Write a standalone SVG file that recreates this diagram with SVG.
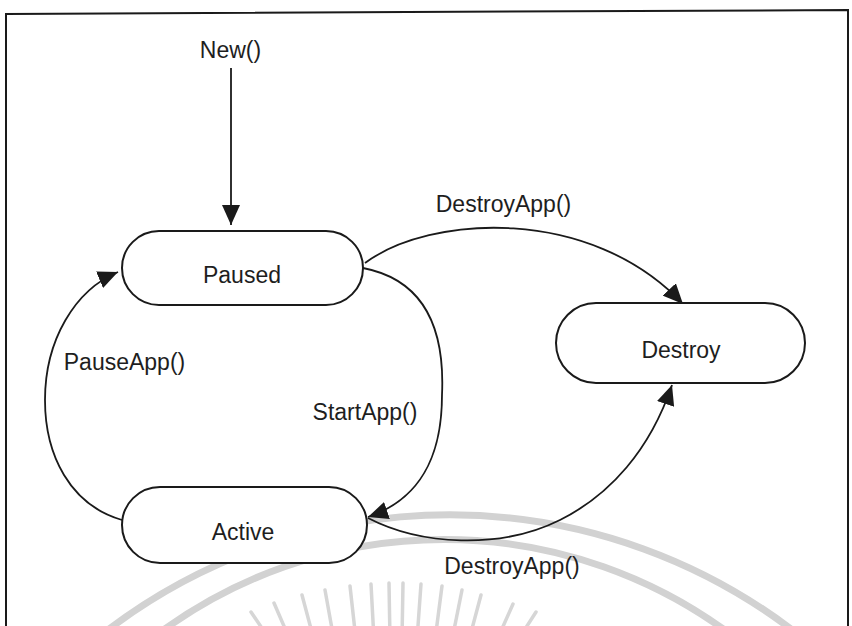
<svg xmlns="http://www.w3.org/2000/svg" width="852" height="626" viewBox="0 0 852 626">
  <style>
    .node { fill: #ffffff; stroke: #1a1a1a; stroke-width: 2; }
    .edge { fill: none; stroke: #1a1a1a; stroke-width: 1.8; }
    .label { font-family: "Liberation Sans", Arial, Helvetica, sans-serif; font-size: 23px; fill: #1e1e1e; text-anchor: middle; }
    .mark { fill: none; stroke: #d2d2d2; }
  </style>
  <defs>
    <marker id="arrow" viewBox="0 0 20 18" refX="20" refY="9" markerWidth="20" markerHeight="18" markerUnits="userSpaceOnUse" orient="auto">
      <path d="M0,0 L20,9 L0,18 z" fill="#1a1a1a"/>
    </marker>
  </defs>

  <rect width="852" height="626" fill="#ffffff"/>

  <!-- faint seal in the background -->
  <g id="seal">
    <path class="mark" stroke-width="7" d="M 95,640 A 566,566 0 0 1 805,640"/>
    <path class="mark" stroke-width="7" d="M 150,640 A 480,480 0 0 1 738,640"/>
    <g stroke="#d6d6d6" stroke-width="3.5" stroke-linecap="round">
      <line x1="251" y1="612" x2="270" y2="640"/>
      <line x1="274" y1="603" x2="290" y2="640"/>
      <line x1="302" y1="595" x2="314" y2="640"/>
      <line x1="325" y1="590" x2="334" y2="640"/>
      <line x1="350" y1="586" x2="356" y2="640"/>
      <line x1="371" y1="584" x2="374" y2="640"/>
      <line x1="389" y1="583" x2="390" y2="640"/>
      <line x1="403" y1="583" x2="402" y2="640"/>
      <line x1="421" y1="584" x2="417" y2="640"/>
      <line x1="442" y1="586" x2="435" y2="640"/>
      <line x1="462" y1="590" x2="452" y2="640"/>
      <line x1="481" y1="595" x2="469" y2="640"/>
      <line x1="513" y1="604" x2="497" y2="640"/>
      <line x1="536" y1="612" x2="518" y2="640"/>
    </g>
  </g>

  <!-- frame -->
  <path d="M6,626 L6,14 L848,10 L848,626" fill="none" stroke="#1a1a1a" stroke-width="2"/>

  <g id="connectors">
    <line class="edge" x1="231" y1="68" x2="231" y2="225" marker-end="url(#arrow)"/>
    <path class="edge" d="M365,263 C430,215 590,205 683,304" marker-end="url(#arrow)"/>
    <path class="edge" d="M363,268 C425,280 445,330 442,395 C442,460 418,500 368,517" marker-end="url(#arrow)"/>
    <path class="edge" d="M122,520 C70,505 45,455 45,400 C45,340 75,290 118,272" marker-end="url(#arrow)"/>
    <path class="edge" d="M368,518 C420,545 500,550 560,520 C610,495 650,450 672,385" marker-end="url(#arrow)"/>
    <text class="label" x="230.5" y="58">New()</text>
    <text class="label" x="503.5" y="212">DestroyApp()</text>
    <text class="label" x="365" y="420">StartApp()</text>
    <text class="label" x="124.5" y="370">PauseApp()</text>
    <text class="label" x="512" y="574">DestroyApp()</text>
  </g>

  <g id="paused">
    <rect class="node" x="122" y="231" width="241" height="74" rx="37" ry="37"/>
    <text class="label" x="242" y="283">Paused</text>
  </g>

  <g id="destroy">
    <rect class="node" x="556" y="303" width="249" height="80" rx="40" ry="40"/>
    <text class="label" x="681" y="358">Destroy</text>
  </g>

  <g id="active">
    <rect class="node" x="122" y="487" width="245" height="76" rx="38" ry="38"/>
    <text class="label" x="243" y="540">Active</text>
  </g>
</svg>
